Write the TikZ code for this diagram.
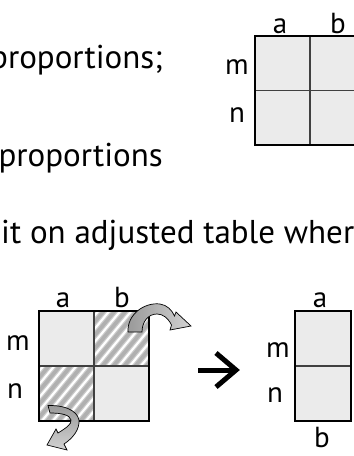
\documentclass[tikz,border=0pt]{standalone}
\usepackage{fontspec}
\setmainfont{PT Sans}
\usetikzlibrary{calc}
\definecolor{cellfill}{HTML}{EBEBEB}
\definecolor{innerline}{HTML}{404040}
\tikzset{
  txt/.style={anchor=base west, inner sep=0pt, font=\fontsize{33}{33}\selectfont},
  lbl/.style={anchor=base, inner sep=0pt, font=\fontsize{29}{29}\selectfont},
  outerbox/.style={draw=black, line width=2.3pt},
  innerrule/.style={draw=innerline, line width=1.3pt},
  hatchlight/.style={draw=gray!40, line width=6pt},
  hatchdark/.style={draw=gray!62, line width=3.6pt},
  curvedarr/.style={draw=black, line width=0.7pt, left color=gray!80, right color=gray!35},
  curvedarrv/.style={draw=black, line width=0.7pt, top color=gray!80, bottom color=gray!35},
  bigarrow/.style={draw=black, line width=5pt, miter limit=10},
}
\begin{document}
\begin{tikzpicture}[x=1pt,y=-1pt]
\useasboundingbox (0,0) rectangle (354,456);
\clip (0,0) rectangle (354,456);
% ---- text lines ----
\node[txt, anchor=base east] (t1) at (163,68) {proportions;};
\node[txt, anchor=base east] (t2) at (163,166) {proportions};
\node[txt] (t3) at (1,243) {it on adjusted table where};
% ---- top right table ----
\coordinate (A1) at (255,36);
\coordinate (A2) at (365,145);
\fill[cellfill] (A1) rectangle (A2);
\draw[innerrule] (310,36) -- (310,145);
\draw[innerrule] (255,90.5) -- (365,90.5);
\draw[outerbox] (A1) rectangle (A2);
\node[lbl] (ta) at (280,33) {a};
\node[lbl] (tb) at (338,33) {b};
\node[lbl] (tm) at (237,74) {m};
\node[lbl] (tn) at (237,122) {n};
% ---- bottom left table ----
\coordinate (B1) at (39,311);
\coordinate (B2) at (149,421);
\fill[cellfill] (B1) rectangle (B2);
\fill[white] (94,311) rectangle (149,366);
\fill[white] (39,366) rectangle (94,421);
\begin{scope}
  \clip (94,311) rectangle (149,366);
  \foreach \i in {-7,...,6} {\draw[hatchlight] (94+\i*11,376) -- ++(63,-76);}
  \foreach \i in {-7,...,6} {\draw[hatchdark] (94+\i*11,376) -- ++(63,-76);}
\end{scope}
\begin{scope}
  \clip (39,366) rectangle (94,421);
  \foreach \i in {-7,...,6} {\draw[hatchlight] (39+\i*11,431) -- ++(63,-76);}
  \foreach \i in {-7,...,6} {\draw[hatchdark] (39+\i*11,431) -- ++(63,-76);}
\end{scope}
\draw[innerrule] (94,311) -- (94,421);
\draw[innerrule] (39,366) -- (149,366);
\draw[outerbox] (B1) rectangle (B2);
\node[lbl] (ba) at (63,307) {a};
\node[lbl] (bb) at (122,307) {b};
\node[lbl] (bm) at (18,350) {m};
\node[lbl] (bn) at (15,398) {n};
% ---- curved arrows ----
\path[curvedarr] (128,332) .. controls (127,314) and (145,302) .. (160,304)
  .. controls (167,305) and (172,310) .. (174.5,316)
  -- (176,312) -- (191,326) -- (170,330) -- (171.5,325)
  .. controls (168,318) and (163,314) .. (157,314)
  .. controls (148,314) and (142,322) .. (142,332) -- cycle;
\path[curvedarrv] (48,405.5) .. controls (70,405) and (80,414) .. (79,423)
  .. controls (78,433) and (70,440) .. (64,444)
  -- (67,450) -- (47,445) -- (56,429) -- (58,433)
  .. controls (66,428) and (72,424) .. (71,420)
  .. controls (70,415) and (62,413) .. (50,413) -- cycle;
% ---- big arrow ----
\coordinate (arrS) at (198,370);
\coordinate (arrE) at (236,370);
\draw[bigarrow] (arrS) -- (arrE);
\draw[bigarrow] (216,353) -- (236,370) -- (216,387);
% ---- right table ----
\coordinate (C1) at (295,311);
\coordinate (C2) at (351,421);
\fill[cellfill] (C1) rectangle (C2);
\draw[innerrule] (295,366) -- (351,366);
\draw[outerbox] (C1) rectangle (C2);
\node[lbl] (ca) at (320,307) {a};
\node[lbl] (cm) at (278,357) {m};
\node[lbl] (cn) at (275,402) {n};
\node[lbl] (cb) at (322,447) {b};
\end{tikzpicture}
\end{document}
